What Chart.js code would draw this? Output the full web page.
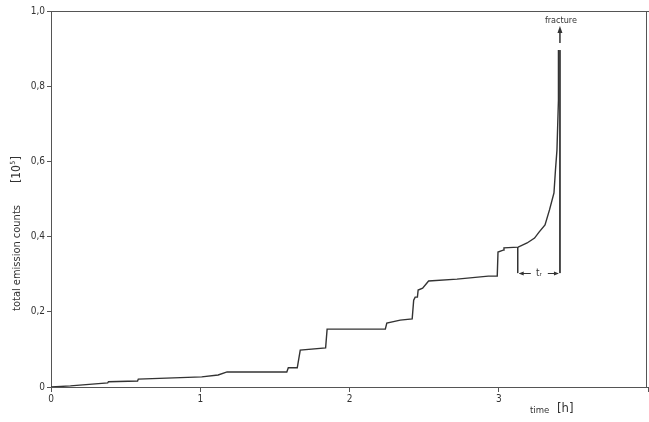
<!DOCTYPE html>
<html>
<head>
<meta charset="utf-8">
<script src="https://cdn.jsdelivr.net/npm/chart.js@4"></script>
<style>
  html, body { margin: 0; padding: 0; background: #fff; }
  #box { width: 649px; height: 422px; }
</style>
</head>
<body>
<div id="box"><canvas id="emission-chart"></canvas></div>
<script>
// valores: tempo [h] e contagem total [10^5]
const timeH = [0, 0.13, 0.38, 0.385, 0.58, 0.585, 1.01, 1.12, 1.18, 1.58, 1.59, 1.65, 1.67, 1.84, 1.85,
  2.24, 2.25, 2.34, 2.42, 2.43, 2.44, 2.455, 2.46, 2.49, 2.53, 2.72, 2.93, 2.99, 2.995, 3.03, 3.035,
  3.13, 3.19, 3.24, 3.27, 3.31, 3.34, 3.37, 3.38, 3.39, 3.40, 3.40];
const countsE5 = [0, 0.003, 0.011, 0.014, 0.016, 0.021, 0.027, 0.032, 0.040, 0.040, 0.051, 0.051, 0.098, 0.104, 0.154,
  0.154, 0.170, 0.178, 0.181, 0.231, 0.239, 0.239, 0.258, 0.263, 0.282, 0.287, 0.295, 0.295, 0.359, 0.364, 0.370,
  0.372, 0.383, 0.396, 0.412, 0.431, 0.471, 0.516, 0.577, 0.630, 0.763, 0.896];

const xTicks = [0, 1, 2, 3, 4];
const yTicks = [0, 0.2, 0.4, 0.6, 0.8, 1.0];

// marcação t_r (início -> fratura)
const markStart = 3.127;
const markFracture = 3.41;
const markLevel = 0.303;
const markTop = [0.372, 0.896];

const fontFam = "'DejaVu Sans Condensed', 'DejaVu Sans', sans-serif";
const ink = '#333';

const extrasPlugin = {
  id: 'extras',
  afterDraw(chart) {
    const ctx = chart.ctx;
    const x = chart.scales.x, y = chart.scales.y;
    const area = chart.chartArea;
    ctx.save();
    ctx.strokeStyle = '#555';
    ctx.lineWidth = 1;
    // moldura superior e direita
    ctx.beginPath();
    ctx.moveTo(area.left, area.top + 0.5);
    ctx.lineTo(649, area.top + 0.5);
    ctx.moveTo(646.5, area.top);
    ctx.lineTo(646.5, area.bottom);
    ctx.stroke();

    ctx.fillStyle = ink;
    ctx.strokeStyle = ink;
    // seta de fratura
    const fx = x.getPixelForValue(markFracture);
    ctx.lineWidth = 1.5;
    ctx.beginPath();
    ctx.moveTo(fx, y.getPixelForValue(0.915));
    ctx.lineTo(fx, y.getPixelForValue(0.945));
    ctx.stroke();
    const ay = y.getPixelForValue(0.955);
    ctx.beginPath();
    ctx.moveTo(fx, ay - 2);
    ctx.lineTo(fx - 2.5, ay + 5);
    ctx.lineTo(fx + 2.5, ay + 5);
    ctx.closePath();
    ctx.fill();
    ctx.font = '9px ' + fontFam;
    ctx.textAlign = 'center';
    ctx.textBaseline = 'middle';
    ctx.fillText('fracture', fx + 1, 21);

    // cota t_r
    const x1 = x.getPixelForValue(markStart);
    const x2 = fx;
    const ly = Math.round(y.getPixelForValue(markLevel)) + 0.5;
    const xm = (x1 + x2) / 2;
    ctx.lineWidth = 1;
    ctx.beginPath();
    ctx.moveTo(x1 + 2, ly); ctx.lineTo(xm - 8, ly);
    ctx.moveTo(xm + 9, ly); ctx.lineTo(x2 - 2, ly);
    ctx.stroke();
    ctx.beginPath();
    ctx.moveTo(x1 + 1, ly); ctx.lineTo(x1 + 6, ly - 2); ctx.lineTo(x1 + 6, ly + 2); ctx.closePath();
    ctx.moveTo(x2 - 1, ly); ctx.lineTo(x2 - 6, ly - 2); ctx.lineTo(x2 - 6, ly + 2); ctx.closePath();
    ctx.fill();
    ctx.font = '10px ' + fontFam;
    ctx.fillText('tᵣ', xm, ly);

    // títulos dos eixos
    ctx.font = '9.5px ' + fontFam;
    ctx.textAlign = 'left';
    ctx.fillText('time', 530, 411);
    ctx.font = '13px ' + fontFam;
    ctx.fillText('[h]', 557, 409);
    ctx.save();
    ctx.translate(17, 258);
    ctx.rotate(-Math.PI / 2);
    ctx.textAlign = 'center';
    ctx.font = '11px ' + fontFam;
    const half = ctx.measureText('total emission counts').width / 2;
    ctx.fillText('total emission counts', 0, 0);
    ctx.textAlign = 'left';
    ctx.font = '12px ' + fontFam;
    const bx = half + 22;
    ctx.fillText('[10', bx, 0);
    const w10 = ctx.measureText('[10').width;
    ctx.font = '7px ' + fontFam;
    ctx.fillText('5', bx + w10 + 0.5, -4);
    ctx.font = '12px ' + fontFam;
    ctx.fillText(']', bx + w10 + 5, 0);
    ctx.restore();
    ctx.restore();
  }
};

const emissionConfig = {
  type: 'scatter',
  data: {
    datasets: [{
      data: timeH.map((t, i) => ({ x: t, y: countsE5[i] })),
      showLine: true,
      borderColor: ink,
      borderWidth: 1.4,
      pointRadius: 0,
      tension: 0
    }, {
      data: [{ x: markStart, y: markTop[0] }, { x: markStart, y: markLevel }],
      showLine: true,
      borderColor: ink,
      borderWidth: 1,
      pointRadius: 0
    }, {
      data: [{ x: markFracture, y: markTop[1] }, { x: markFracture, y: markLevel }],
      showLine: true,
      borderColor: ink,
      borderWidth: 1,
      pointRadius: 0
    }]
  },
  options: {
    responsive: true,
    maintainAspectRatio: false,
    animation: false,
    layout: { padding: { top: 11, right: 1, left: 0, bottom: 0 } },
    plugins: { legend: { display: false }, tooltip: { enabled: false } },
    scales: {
      x: {
        type: 'linear',
        min: 0,
        max: 4,
        afterBuildTicks: (s) => { s.ticks = xTicks.map(v => ({ value: v })); },
        afterFit: (s) => { s.height = 35; },
        ticks: {
          color: ink,
          font: { family: fontFam, size: 10 },
          padding: 1,
          maxRotation: 0,
          callback: (v) => (v === 4 ? '' : String(v))
        },
        grid: { drawOnChartArea: false, tickLength: 5, color: '#555' },
        border: { color: '#555', width: 1 }
      },
      y: {
        type: 'linear',
        min: 0,
        max: 1,
        afterBuildTicks: (s) => { s.ticks = yTicks.map(v => ({ value: v })); },
        afterFit: (s) => { s.width = 51; },
        ticks: {
          color: ink,
          font: { family: fontFam, size: 10 },
          padding: 2,
          callback: (v) => (v === 0 ? '0' : v.toFixed(1).replace('.', ','))
        },
        grid: { drawOnChartArea: false, tickLength: 4, color: '#555' },
        border: { color: '#555', width: 1 }
      }
    }
  },
  plugins: [extrasPlugin]
};

const emissionChart = new Chart(document.getElementById('emission-chart'), emissionConfig);
</script>
</body>
</html>
